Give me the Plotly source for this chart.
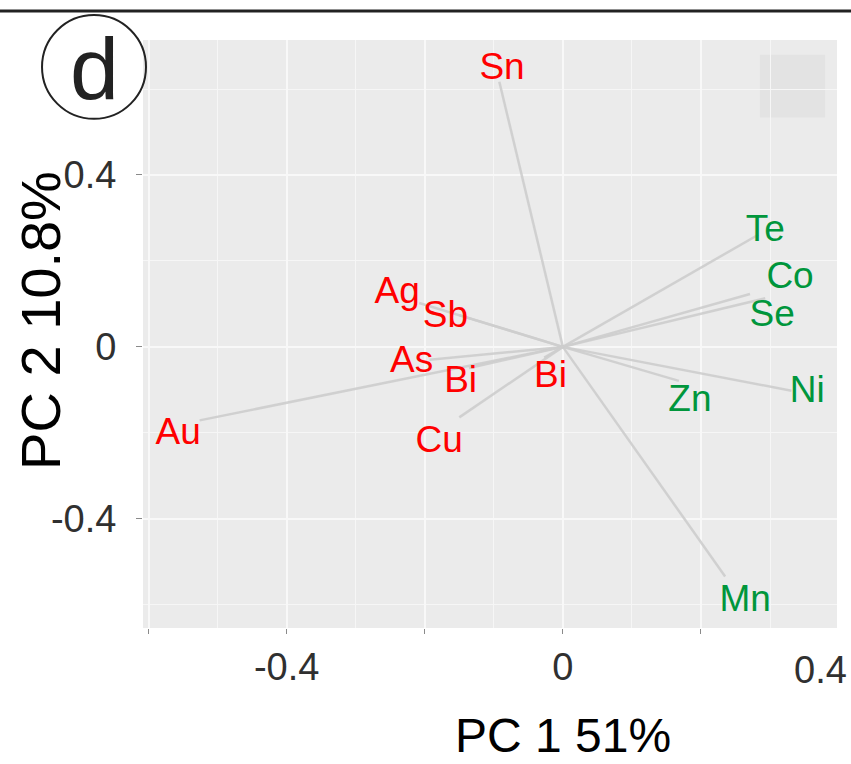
import plotly.graph_objects as go

# PCA loadings: end points of each variable vector (PC1, PC2)
elements = ["Sn", "Te", "Co", "Se", "Ni", "Zn", "Mn",
            "Au", "Ag", "Sb", "As", "Bi", "Bi", "Cu"]
pc1 = [-0.092, 0.283, 0.293, 0.271, 0.331, 0.168, 0.235,
       -0.526, -0.208, -0.150, -0.193, -0.136, -0.027, -0.150]
pc2 = [0.617, 0.261, 0.113, 0.123, -0.102, -0.079, -0.534,
       -0.171, 0.102, 0.074, -0.030, -0.049, -0.025, -0.164]

# repelled label positions
label_x = [-0.088, 0.293, 0.329, 0.303, 0.354, 0.184, 0.264,
           -0.557, -0.240, -0.170, -0.219, -0.148, -0.018, -0.179]
label_y = [0.645, 0.268, 0.158, 0.071, -0.107, -0.128, -0.592,
           -0.204, 0.124, 0.067, -0.037, -0.084, -0.072, -0.222]

# cluster membership: 1 = red group, 2 = green group
group = [1, 2, 2, 2, 2, 2, 2, 1, 1, 1, 1, 1, 1, 1]
group_colors = {1: "#FF0000", 2: "#00963C"}

x_ticks = [-0.6, -0.4, -0.2, 0.0, 0.2]
x_tick_text = ["", "-0.4", "", "0", ""]
y_ticks = [-0.4, 0.0, 0.4]
y_tick_text = ["-0.4", "0", "0.4"]

FONT = "Liberation Sans, Arial, Helvetica, sans-serif"
TXT = "#303030"

fig = go.Figure()

# grey loading segments from the origin
for x1, y1 in zip(pc1, pc2):
    fig.add_trace(go.Scatter(
        x=[0, x1], y=[0, y1], mode="lines",
        line=dict(color="rgba(205,205,205,0.9)", width=2.5),
        hoverinfo="skip", showlegend=False))

# element labels
fig.add_trace(go.Scatter(
    x=label_x, y=label_y, mode="text", text=elements,
    textfont=dict(family=FONT, size=37,
                  color=[group_colors[g] for g in group]),
    textposition="middle center", showlegend=False))

# minor grid lines (between major breaks)
minor_x = [-0.5, -0.3, -0.1, 0.1, 0.3]
minor_y = [-0.6, -0.2, 0.2, 0.6]

fig.update_layout(
    width=851, height=764,
    margin=dict(l=143, r=14, t=40, b=136),
    paper_bgcolor="white",
    plot_bgcolor="#EBEBEB",
    font=dict(family=FONT, color=TXT),
    xaxis=dict(
        range=[-0.608, 0.397], tickvals=x_ticks, ticktext=x_tick_text,
        showgrid=True, gridcolor="#F8F8F8", gridwidth=1.6,
        minor=dict(tickvals=minor_x, showgrid=True, gridcolor="#F6F6F6",
                   gridwidth=0.8, ticks=""),
        ticks="outside", ticklen=5, tickwidth=1.2, tickcolor="#8a8a8a",
        tickfont=dict(size=38, color=TXT, family=FONT),
        zeroline=False, showline=False),
    yaxis=dict(
        range=[-0.654, 0.714], tickvals=y_ticks, ticktext=y_tick_text,
        showgrid=True, gridcolor="#F8F8F8", gridwidth=1.6,
        minor=dict(tickvals=minor_y, showgrid=True, gridcolor="#F6F6F6",
                   gridwidth=0.8, ticks=""),
        ticks="outside", ticklen=6, tickwidth=1.2, tickcolor="#8a8a8a",
        tickfont=dict(size=38, color=TXT, family=FONT),
        ticklabelstandoff=12,
        zeroline=False, showline=False),
)

# faint legend-key square in the upper right corner
fig.add_shape(type="rect", xref="x domain", yref="y domain",
              x0=0.889, x1=0.983, y0=0.868, y1=0.975,
              fillcolor="#E3E3E3", line=dict(width=0), layer="below")

# rightmost x tick label
fig.add_annotation(x=1.0, xref="paper", y=-0.072, yref="paper",
                   text="0.4", showarrow=False, xanchor="right",
                   yanchor="middle", xshift=12,
                   font=dict(size=38, color=TXT, family=FONT))

# axis titles
fig.add_annotation(x=0.0, xref="x", y=-0.182, yref="paper",
                   text="PC 1 51%", showarrow=False, xanchor="center",
                   yanchor="middle",
                   font=dict(size=48, color="black", family=FONT))
fig.add_annotation(x=-0.147, xref="paper", y=0.0627, yref="y",
                   text="PC 2 10.8%", showarrow=False, textangle=-90,
                   xanchor="center", yanchor="middle",
                   font=dict(size=56, color="black", family=FONT))

# panel tag "d" in a circle
fig.add_shape(type="circle", xref="paper", yref="paper",
              x0=-0.1455, x1=0.0043, y0=0.866, y1=1.0425,
              line=dict(color="#222222", width=2))
fig.add_annotation(x=-0.0706, xref="paper", y=0.952, yref="paper",
                   text="d", showarrow=False, xanchor="center",
                   yanchor="middle",
                   font=dict(size=88, color="#222222", family=FONT))

# horizontal rule across the top
fig.add_shape(type="line", xref="paper", yref="paper",
              x0=-0.3, x1=1.1, y0=1.0493, y1=1.0493,
              line=dict(color="#222222", width=3))

fig.write_html("out.html")
